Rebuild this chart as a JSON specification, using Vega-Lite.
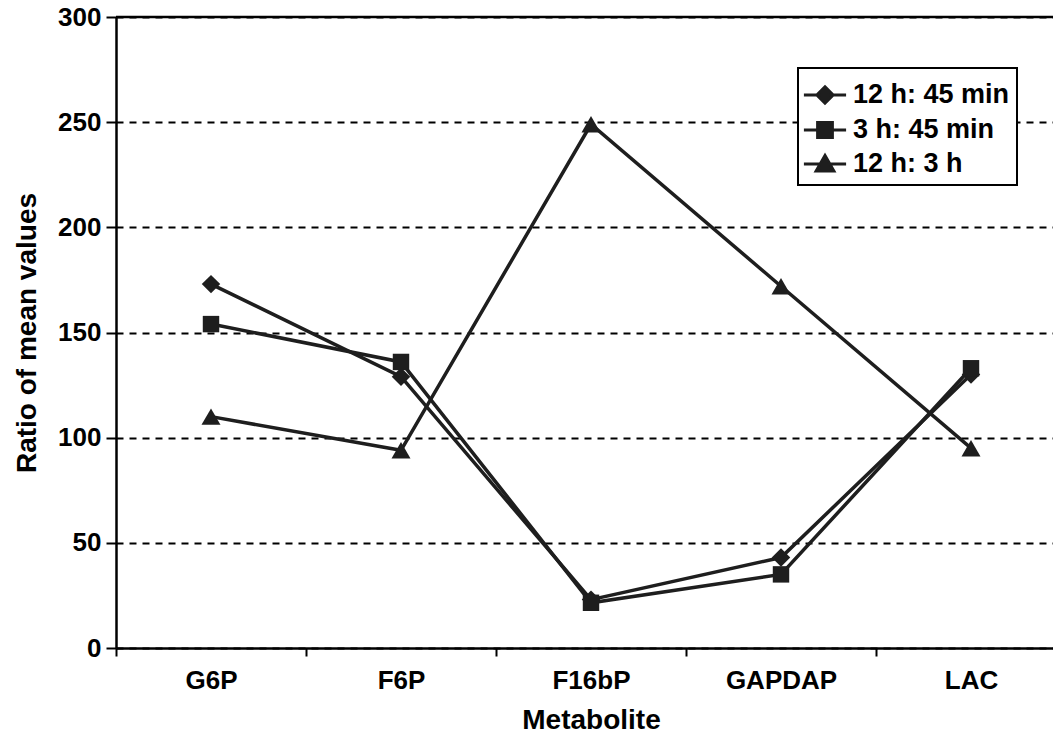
{
  "$schema": "https://vega.github.io/schema/vega-lite/v6.json",
  "width": 937,
  "height": 631,
  "autosize": {"type": "none"},
  "padding": {"left": 116, "top": 17, "right": 0, "bottom": 90},
  "background": "white",
  "config": {
    "view": {"stroke": null},
    "font": "Liberation Sans",
    "axis": {"labelColor": "black", "titleColor": "black", "labelFontWeight": "bold", "titleFontWeight": "bold"}
  },
  "data": {
    "values": [
      {"series": "12 h: 45 min", "metabolite": "G6P", "ratio": 173},
      {"series": "12 h: 45 min", "metabolite": "F6P", "ratio": 129},
      {"series": "12 h: 45 min", "metabolite": "F16bP", "ratio": 23},
      {"series": "12 h: 45 min", "metabolite": "GAPDAP", "ratio": 43},
      {"series": "12 h: 45 min", "metabolite": "LAC", "ratio": 130},
      {"series": "3 h: 45 min", "metabolite": "G6P", "ratio": 154},
      {"series": "3 h: 45 min", "metabolite": "F6P", "ratio": 136},
      {"series": "3 h: 45 min", "metabolite": "F16bP", "ratio": 21.5},
      {"series": "3 h: 45 min", "metabolite": "GAPDAP", "ratio": 35},
      {"series": "3 h: 45 min", "metabolite": "LAC", "ratio": 133},
      {"series": "12 h: 3 h", "metabolite": "G6P", "ratio": 110},
      {"series": "12 h: 3 h", "metabolite": "F6P", "ratio": 94},
      {"series": "12 h: 3 h", "metabolite": "F16bP", "ratio": 249},
      {"series": "12 h: 3 h", "metabolite": "GAPDAP", "ratio": 172},
      {"series": "12 h: 3 h", "metabolite": "LAC", "ratio": 95}
    ]
  },
  "layer": [
    {
      "mark": {"type": "line", "color": "#1e1e1e", "strokeWidth": 3.5},
      "encoding": {
        "x": {
          "field": "metabolite",
          "type": "nominal",
          "sort": ["G6P", "F6P", "F16bP", "GAPDAP", "LAC"],
          "scale": {"type": "band", "range": [0, 950], "paddingInner": 0, "paddingOuter": 0},
          "axis": {
            "tickBand": "extent",
            "labelAngle": 0,
            "labelFontSize": 26,
            "labelPadding": 11,
            "tickSize": 8,
            "tickWidth": 2,
            "tickColor": "black",
            "domainColor": "black",
            "domainWidth": 2.5,
            "title": "Metabolite",
            "titleFontSize": 28,
            "titlePadding": 13
          }
        },
        "y": {
          "field": "ratio",
          "type": "quantitative",
          "scale": {"domain": [0, 300], "nice": false},
          "axis": {
            "values": [0, 50, 100, 150, 200, 250, 300],
            "grid": true,
            "gridColor": "black",
            "gridDash": [7, 6],
            "gridWidth": 2,
            "gridOpacity": 1,
            "domainColor": "black",
            "domainWidth": 2.5,
            "tickColor": "black",
            "tickWidth": 2,
            "tickSize": 10,
            "labelFontSize": 26,
            "labelPadding": 5,
            "title": "Ratio of mean values",
            "titleFontSize": 28,
            "titlePadding": 16
          }
        },
        "detail": {"field": "series"}
      }
    },
    {
      "data": {"values": [{}]},
      "mark": {"type": "rule", "color": "black", "strokeWidth": 2.5},
      "encoding": {"y": {"datum": 300}}
    },
    {
      "mark": {"type": "point", "filled": true, "color": "#1e1e1e", "opacity": 1},
      "encoding": {
        "x": {"field": "metabolite", "type": "nominal", "sort": ["G6P", "F6P", "F16bP", "GAPDAP", "LAC"]},
        "y": {"field": "ratio", "type": "quantitative"},
        "shape": {
          "field": "series",
          "scale": {"domain": ["12 h: 45 min", "3 h: 45 min", "12 h: 3 h"], "range": ["diamond", "square", "triangle-up"]},
          "legend": null
        },
        "size": {
          "field": "series",
          "type": "nominal",
          "scale": {"type": "ordinal", "domain": ["12 h: 45 min", "3 h: 45 min", "12 h: 3 h"], "range": [340, 270, 360]},
          "legend": null
        }
      }
    },
    {
      "mark": {"type": "point", "filled": true, "opacity": 0},
      "encoding": {
        "x": {"field": "metabolite", "type": "nominal", "sort": ["G6P", "F6P", "F16bP", "GAPDAP", "LAC"]},
        "y": {"field": "ratio", "type": "quantitative"},
        "color": {
          "field": "series",
          "scale": {"domain": ["12 h: 45 min", "3 h: 45 min", "12 h: 3 h"], "range": ["#1e1e1e", "#1e1e1e", "#1e1e1e"]},
          "legend": {
            "title": null,
            "orient": "none",
            "legendX": 682,
            "legendY": 51,
            "padding": 7,
            "strokeColor": "black",
            "fillColor": "white",
            "symbolSize": 1369,
            "labelFontSize": 27,
            "labelFontWeight": "bold",
            "labelColor": "black",
            "labelOffset": 8,
            "rowPadding": 0,
            "labelLimit": 400,
            "encode": {
              "legend": {"update": {"strokeWidth": {"value": 2}}},
              "symbols": {
                "update": {
                  "shape": {"signal": "datum.value === '12 h: 45 min' ? 'M-1.14,0H1.14M0,-0.44L0.44,0L0,0.44L-0.44,0Z' : datum.value === '3 h: 45 min' ? 'M-1.14,0H1.14M-0.4,-0.4H0.4V0.4H-0.4Z' : 'M-1.14,0H1.14M0,-0.46L0.48,0.38H-0.48Z'"},
                  "size": {"value": 1369},
                  "opacity": {"value": 1},
                  "fill": {"value": "#1e1e1e"},
                  "stroke": {"value": "#1e1e1e"},
                  "strokeWidth": {"value": 3}
                }
              }
            }
          }
        }
      }
    }
  ],
  "resolve": {"scale": {"shape": "independent", "size": "independent"}}
}
